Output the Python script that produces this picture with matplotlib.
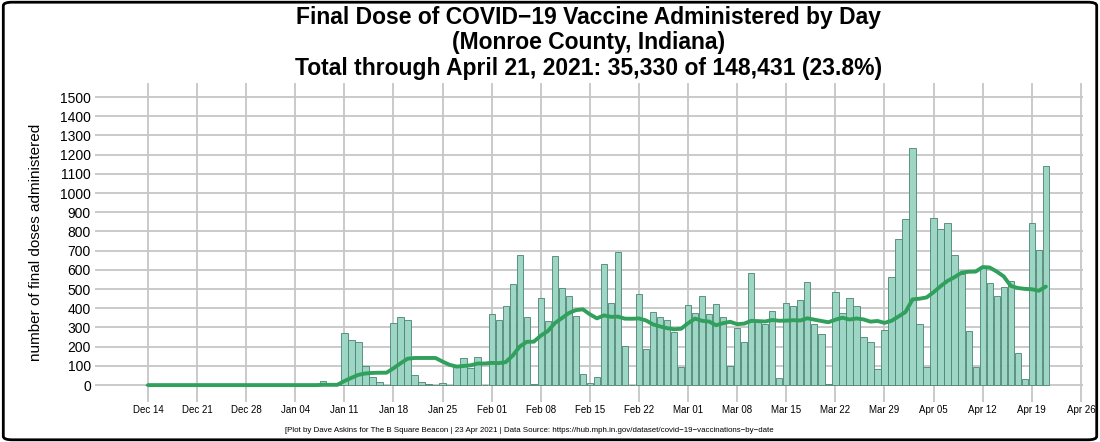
"""Final-dose COVID-19 vaccinations per day, Monroe County IN, with 14-day trailing mean."""
import numpy as np
import pandas as pd
import matplotlib
matplotlib.use('Agg')
import matplotlib.pyplot as plt
import matplotlib.dates as mdates
from matplotlib.patches import FancyBboxPatch

plt.rcParams['font.family'] = ['Liberation Sans', 'DejaVu Sans']

start, end = '2020-12-14', '2021-04-21'
# daily counts, Dec 14 .. Apr 21
doses = ([0] * 25 + [20, 0, 0] +
         [273, 234, 222, 99, 40, 14, 0] +        # Jan 11
         [325, 356, 340, 52, 17, 5, 0] +         # Jan 18
         [9, 0, 95, 140, 90, 145, 0] +           # Jan 25
         [370, 339, 411, 529, 677, 352, 5] +     # Feb 01
         [451, 333, 672, 503, 464, 359, 56] +    # Feb 08
         [9, 43, 628, 425, 691, 203, 0] +        # Feb 15
         [474, 188, 380, 356, 339, 276, 92] +    # Feb 22
         [417, 378, 466, 372, 422, 356, 101] +   # Mar 01
         [299, 227, 585, 330, 318, 384, 35] +    # Mar 08
         [425, 411, 444, 535, 318, 266, 5] +     # Mar 15
         [484, 373, 451, 410, 248, 222, 82] +    # Mar 22
         [286, 564, 759, 863, 1236, 316, 95] +   # Mar 29
         [868, 811, 842, 680, 580, 281, 95] +    # Apr 05
         [615, 530, 465, 509, 542, 165, 31] +    # Apr 12
         [842, 703, 1141])                       # Apr 19
days = pd.date_range(start, end, freq='D')
tick_days = pd.date_range('2020-12-14', '2021-04-26', freq='7D')
yticks = list(range(0, 1600, 100))

s = pd.Series(doses, index=days)
avg = s.rolling(14, min_periods=1).mean()

W, H = 1100, 442
fig = plt.figure(figsize=(W / 100, H / 100), dpi=100)
ax = fig.add_axes([95 / W, 1 - 402 / H, (1083 - 95) / W, (402 - 83) / H])

ax.bar(days, s.values, width=0.9, color='#9dd6c5', edgecolor='#4a8470', lw=0.6, zorder=2)
ax.plot(days, avg.values, color='#31a05c', lw=2.8, zorder=3, solid_capstyle='round')

x0 = mdates.date2num(pd.Timestamp(start))
ax.set_xlim(x0 - 7.55, x0 + 133.3)
ax.set_ylim(-88, 1573)
ax.set_xticks(tick_days)
ax.set_xticklabels([d.strftime('%b %d') for d in tick_days],
                   fontsize=7, family=['Liberation Sans Narrow', 'Liberation Sans'])
ax.set_yticks(yticks)
ax.set_yticklabels([str(v) for v in yticks], fontsize=10)
ax.tick_params(length=0, pad=3)
ax.tick_params(axis='x', pad=2)
ax.grid(True, color='#c6c6c6', lw=1.3, zorder=0)
for sp in ax.spines.values():
    sp.set_visible(False)
ax.set_ylabel('number of final doses administered', fontsize=11, labelpad=12)
ax.set_title('Final Dose of COVID\u221219 Vaccine Administered by Day\n'
             '(Monroe County, Indiana)\n'
             'Total through April 21, 2021: 35,330 of 148,431 (23.8%)',
             fontsize=16.5, fontweight='bold', linespacing=1.13, pad=6)

fig.text(0.481, 1 - 430 / H,
         '[Plot by Dave Askins for The B Square Beacon | 23 Apr 2021 | Data Source: '
         'https://hub.mph.in.gov/dataset/covid\u221219\u2212vaccinations\u2212by\u2212date',
         fontsize=5.7, ha='center', va='center',
         family=['Liberation Sans Narrow', 'Liberation Sans'])

fig.patches.append(FancyBboxPatch((0.003, 0.005), 0.994, 0.99, boxstyle='round,pad=0,rounding_size=0.008',
                                  transform=fig.transFigure, fill=False, ec='black', lw=2))
fig.savefig('out.png', dpi=100)
